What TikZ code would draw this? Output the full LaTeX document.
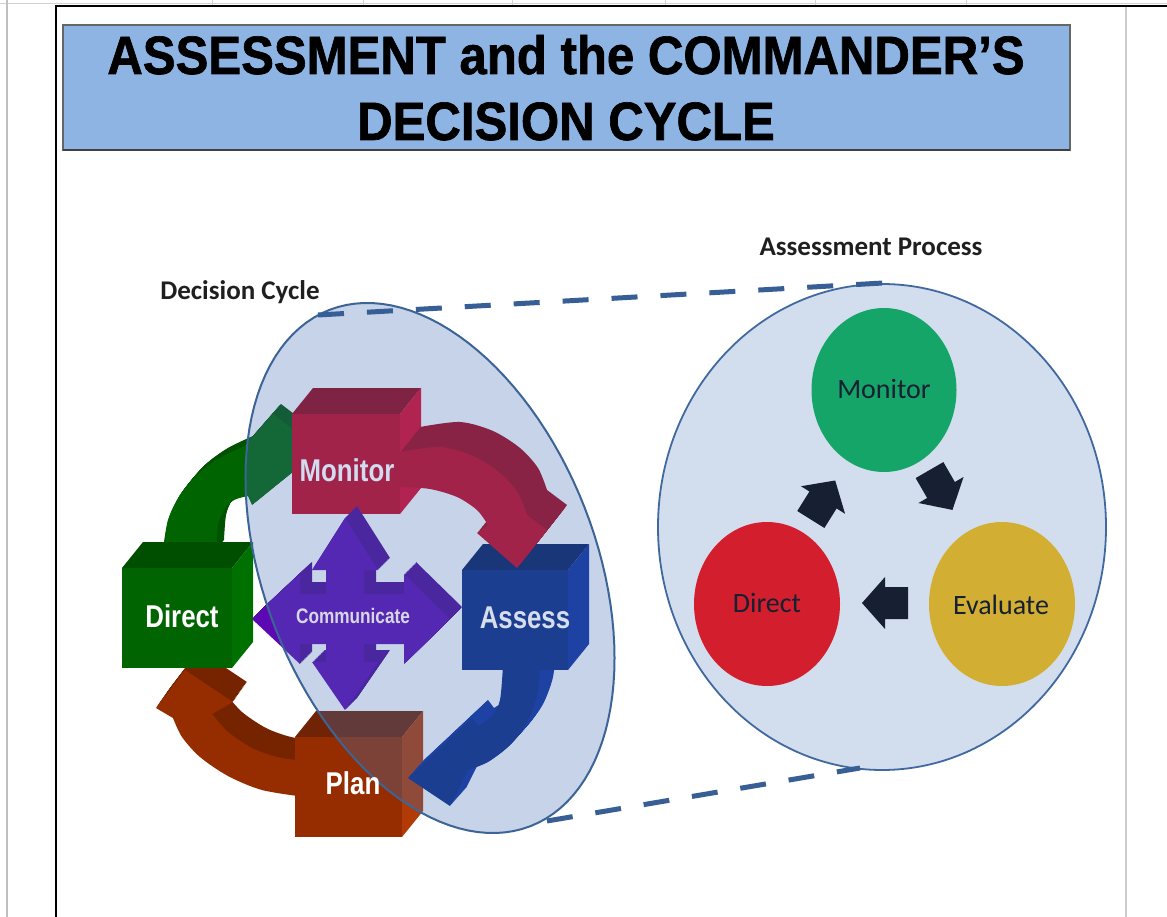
\documentclass[tikz,border=0pt]{standalone}
\usepackage{fontspec}
\setmainfont{Carlito}
\newfontfamily\titlefont{Liberation Sans}[FakeStretch=0.91,FakeBold=1.2]
\newfontfamily\boxfont{Liberation Sans}[FakeStretch=0.82]
\definecolor{titlec}{RGB}{141,180,226}
\definecolor{monF}{RGB}{204,3,27}
\definecolor{monT}{RGB}{154,3,19}
\definecolor{monS}{RGB}{226,3,36}
\definecolor{pinkT}{RGB}{166,3,22}
\definecolor{assF}{RGB}{10,41,129}
\definecolor{assT}{RGB}{7,31,93}
\definecolor{assS}{RGB}{14,46,157}
\definecolor{dirF}{RGB}{0,100,0}
\definecolor{dirT}{RGB}{0,78,0}
\definecolor{dirS}{RGB}{0,112,0}
\definecolor{grnS}{RGB}{0,82,0}
\definecolor{plaF}{RGB}{150,45,0}
\definecolor{plaT}{RGB}{112,35,5}
\definecolor{plaS}{RGB}{178,58,5}
\definecolor{brnS}{RGB}{118,36,0}
\definecolor{purF}{RGB}{93,9,179}
\definecolor{purS}{RGB}{78,8,150}
\definecolor{ovl}{RGB}{67,112,183}
\definecolor{ellb}{RGB}{60,100,150}
\definecolor{bigc}{RGB}{210,222,238}
\definecolor{bigb}{RGB}{65,105,160}
\definecolor{gcirc}{RGB}{22,165,105}
\definecolor{rcirc}{RGB}{210,30,45}
\definecolor{ycirc}{RGB}{210,175,50}
\definecolor{darr}{RGB}{22,32,50}
\definecolor{dashc}{RGB}{55,95,150}
\definecolor{montxt}{RGB}{210,220,240}
\definecolor{asstxt}{RGB}{215,222,235}
\definecolor{comtxt}{RGB}{215,215,228}
% 3D box: x1 y1 x2 y2 front top side
\newcommand\cubebox[7]{%
  \fill[#6] (#1,#2) -- (#1+21,#2-26) -- (#3+21,#2-26) -- (#3,#2) -- cycle;
  \fill[#7] (#3,#2) -- (#3+21,#2-26) -- (#3+21,#4-26) -- (#3,#4) -- cycle;
  \fill[#5] (#1,#2) rectangle (#3,#4);}
% extruded shape: path, dx, dy, side colour, front colour
\newcommand\extrude[5]{%
  \foreach \i in {16,15,...,1} {\fill[#4, shift={({\i*(#2)/16},{\i*(#3)/16})}] #1;}
  \fill[#5] #1;}
\newcommand\blockarrow[3]{%
  \fill[darr, shift={(#1,#2)}, rotate=#3] (-23,-16) -- (0,-16) -- (0,-26) -- (23,0) -- (0,26) -- (0,16) -- (-23,16) -- cycle;}
\def\greenpath{plot[smooth] coordinates {(163,550) (168,520) (180,495) (198,474) (220,458) (245,446)} -- (273,414) -- (320,450) -- (252,505) -- plot[smooth] coordinates {(248,496) (234,500) (224,510) (218,525) (216,550)} -- cycle}
\def\brownpath{plot[smooth] coordinates {(305,797) (262,790) (228,776) (200,757) (182,737) (173,718)} -- (156,708) -- (185,670) -- (233,702) -- plot[smooth] coordinates {(212,714) (228,732) (252,748) (277,757) (305,761)} -- cycle}
\def\pinkpath{plot[smooth] coordinates {(400,452) (440,447) (473,456) (500,473) (518,493) (527,515)} -- (547,530) -- (517,568) -- (477,533) -- plot[smooth] coordinates {(488,525) (477,510) (457,497) (430,489) (400,487)} -- cycle}
\def\bluepath{plot[smooth] coordinates {(540,665) (537,695) (527,722) (510,745) (488,762) (468,770)} -- (450,806) -- (408,778) -- (472,718) -- plot[smooth] coordinates {(478,726) (492,716) (500,700) (503,665)} -- cycle}
\def\crosspath{(326,594) -- (326,570) -- (312,570) -- (345,518) -- (378,570) -- (364,570) -- (364,594) -- (404,594) -- (404,574) -- (450,619) -- (404,664) -- (404,644) -- (364,644) -- (364,662) -- (378,662) -- (345,710) -- (312,662) -- (326,662) -- (326,644) -- (300,644) -- (300,664) -- (252,619) -- (300,574) -- (300,594) -- cycle}
\begin{document}
\begin{tikzpicture}[x=1pt,y=-1pt,
  lbl/.style={font=\bfseries\fontsize{27}{30}\selectfont, text=black!88},
  boxtxt/.style={font=\boxfont\bfseries\fontsize{31.5}{34}\selectfont},
  circtxt/.style={font=\fontsize{28}{32}\selectfont, text=darr},
  dashline/.style={draw=dashc, line width=5pt, dash pattern=on 26pt off 23pt}]
\useasboundingbox (0,0) rectangle (1167,917);
\fill[white] (0,0) rectangle (1167,917);
% sheet frame
\draw[gray!35, line width=0.8] (0,3) -- (1167,3);
\foreach \xx in {212,363,512,665,815,966} \draw[gray!35, line width=0.8] (\xx,0) -- (\xx,6);
\draw[gray!50, line width=1.2] (7,0) -- (7,917);
\draw[gray!40, line width=1.2] (1126,6) -- (1126,917);
\draw[black, line width=2] (56,917) -- (56,6) -- (1167,6);
% title
\node[draw=black!60, line width=1.2, fill=titlec, minimum width=1007pt, minimum height=125pt, inner sep=0pt] (titlebox) at (566.5,87.5) {};
\draw[black!75, line width=2.5] (63,150) -- (1070,150);
\node[anchor=base, font=\titlefont\bfseries\fontsize{54}{60}\selectfont] (t1) at (566,74) {ASSESSMENT and the COMMANDER’S};
\node[anchor=base, font=\titlefont\bfseries\fontsize{54}{60}\selectfont] (t2) at (566,140) {DECISION CYCLE};
% labels
\node[lbl, anchor=base] (ldc) at (240,299) {Decision Cycle};
\node[lbl, anchor=base] (lap) at (871,256) {Assessment Process};
% assessment process circle
\draw[fill=bigc, draw=bigb, line width=1.8] (882,527) ellipse [x radius=224, y radius=243];
\fill[gcirc] (884,390) ellipse [x radius=72.5, y radius=82];
\fill[rcirc] (767,604) ellipse [x radius=73, y radius=82];
\fill[ycirc] (1002,604) ellipse [x radius=73, y radius=82];
\node[circtxt] (cmon) at (884,389) {Monitor};
\node[circtxt] (cdir) at (767,603) {Direct};
\node[circtxt] (ceva) at (1001,605) {Evaluate};
\blockarrow{823}{500}{58}
\blockarrow{941}{490}{-60}
\blockarrow{885}{603}{180}
% decision cycle
\extrude{\greenpath}{8}{-10}{grnS}{dirF}
\extrude{\brownpath}{14}{-20}{brnS}{plaF}
\cubebox{122}{568}{232}{668}{dirF}{dirT}{dirS}
\cubebox{295}{737}{402}{837}{plaF}{plaT}{plaS}
\cubebox{292}{414}{400}{514}{monF}{monT}{monS}
\extrude{\bluepath}{16}{-18}{assS}{assF}
\cubebox{462}{570}{568}{670}{assF}{assT}{assS}
\extrude{\pinkpath}{20}{-25}{pinkT}{monF}
\extrude{\crosspath}{12}{-12}{purS}{purF}
% translucent ellipse
\path[fill=ovl, fill opacity=0.3, draw=ellb, line width=2] plot[domain=0:357, samples=120] ({430+277*cos(\x)*0.3633-166*sin(\x)*0.9317},{568+277*cos(\x)*0.9317+166*sin(\x)*0.3633}) -- cycle;
% box texts
\node[boxtxt, text=montxt] (tmon) at (347,470) {Monitor};
\node[boxtxt, text=asstxt] (tass) at (525,618) {Assess};
\node[boxtxt, text=white] (tdir) at (182,616) {Direct};
\node[boxtxt, text=white] (tpla) at (353,783) {Plan};
\node[font=\boxfont\bfseries\fontsize{21}{24}\selectfont, text=comtxt] (tcom) at (353,616) {Communicate};
% dashed zoom lines
\coordinate (ua) at (318,315);
\coordinate (ub) at (883,283);
\coordinate (la) at (547,821);
\coordinate (lb) at (860,768);
\draw[dashline] (ua) -- (ub);
\draw[dashline] (la) -- (lb);
\end{tikzpicture}
\end{document}
